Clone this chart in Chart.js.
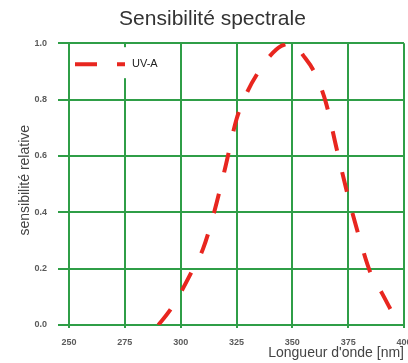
<!DOCTYPE html>
<html>
<head>
<meta charset="utf-8">
<script src="https://cdn.jsdelivr.net/npm/chart.js@4/dist/chart.umd.min.js"></script>
<style>
  html, body { margin: 0; padding: 0; background: #ffffff; }
  #wrap { width: 408px; height: 363px; }
</style>
</head>
<body>
<div id="wrap"><canvas id="chart_canvas" width="408" height="363"></canvas></div>
<script>
// values
const wavelengths = [290, 295, 300, 305, 310, 315, 320, 325, 330, 335, 340, 345, 350, 355, 360, 365, 370, 375, 380, 385, 390, 395];
const sensitivity = [0.0, 0.05, 0.115, 0.19, 0.27, 0.40, 0.56, 0.73, 0.83, 0.90, 0.955, 0.99, 1.0, 0.955, 0.895, 0.79, 0.62, 0.455, 0.31, 0.185, 0.115, 0.04];
const seriesName = "UV-A";
const chartTitle = "Sensibilité spectrale";
const xTitle = "Longueur d'onde [nm]";
const yTitle = "sensibilité relative";

const gridGreen = "#2f9e47";
const curveRed = "#e8261f";
const fontFamily = "'Liberation Sans', Arial, sans-serif";

// white box with the dashed sample line, sitting on top of the grid
const insideLegend =
{
  id: "insideLegend",
  beforeDatasetsDraw(chart)
  {
    const ctx = chart.ctx;
    const area = chart.chartArea;
    const ds = chart.data.datasets[0];
    const x0 = area.left + 2;
    const y0 = area.top + 4;

    ctx.save();
    ctx.fillStyle = "#ffffff";
    ctx.fillRect(x0, y0, 100, 31);

    const ly = y0 + 17;
    ctx.strokeStyle = ds.borderColor;
    ctx.lineWidth = 4;
    ctx.setLineDash([22, 20]);
    ctx.beginPath();
    ctx.moveTo(x0 + 4, ly);
    ctx.lineTo(x0 + 54, ly);
    ctx.stroke();

    ctx.setLineDash([]);
    ctx.fillStyle = "#222222";
    ctx.font = "11px " + fontFamily;
    ctx.textBaseline = "middle";
    ctx.fillText(ds.label, x0 + 61, ly);
    ctx.restore();
  }
};

const points = wavelengths.map((w, i) => ({x: w, y: sensitivity[i]}));

var options =
{
  responsive: false,
  animation: false,
  layout: { padding: { left: 21, right: 4, top: 0, bottom: 0 } },
  plugins:
  {
    legend: { display: false },
    tooltip: { enabled: false },
    title:
    {
      display: true,
      text: chartTitle,
      color: "#333333",
      font: { family: fontFamily, size: 21, weight: "normal" },
      padding: { top: 7, bottom: 11 }
    }
  },
  scales:
  {
    x:
    {
      type: "linear",
      min: 250,
      max: 400,
      ticks:
      {
        stepSize: 25,
        maxRotation: 0,
        autoSkip: false,
        padding: 9,
        color: "#5a5a5a",
        font: { family: fontFamily, size: 9, weight: "bold" }
      },
      grid: { color: gridGreen, lineWidth: 2, tickLength: 3, drawTicks: true },
      border: { color: gridGreen, width: 2 },
      title:
      {
        display: true,
        text: xTitle,
        align: "end",
        color: "#444444",
        padding: { top: 0, bottom: 1 },
        font: { family: fontFamily, size: 14 }
      },
      afterFit(scale)
      {
        scale.height = 38;
        scale.paddingRight = 0;
      }
    },
    y:
    {
      min: 0,
      max: 1,
      ticks:
      {
        stepSize: 0.2,
        padding: 11,
        color: "#5a5a5a",
        font: { family: fontFamily, size: 9, weight: "bold" },
        callback: (v) => v.toFixed(1)
      },
      grid: { color: gridGreen, lineWidth: 2, tickLength: 11, drawTicks: true },
      border: { color: gridGreen, width: 2 },
      title:
      {
        display: true,
        // leading spaces nudge the rotated label up a little, as in the source
        text: "  " + yTitle,
        color: "#444444",
        padding: { top: 0, bottom: 0 },
        font: { family: fontFamily, size: 14, lineHeight: 0.64 }
      },
      afterFit(scale)
      {
        scale.width = 48;
      }
    }
  }
};

const config =
{
  type: "line",
  data:
  {
    datasets:
    [{
      label: seriesName,
      data: points,
      borderColor: curveRed,
      borderWidth: 4,
      borderDash: [20, 22],
      borderCapStyle: "butt",
      cubicInterpolationMode: "monotone",
      pointRadius: 0,
      fill: false
    }]
  },
  options: options,
  plugins: [insideLegend]
};

var chart = new Chart(document.getElementById("chart_canvas"), config);
</script>
</body>
</html>
